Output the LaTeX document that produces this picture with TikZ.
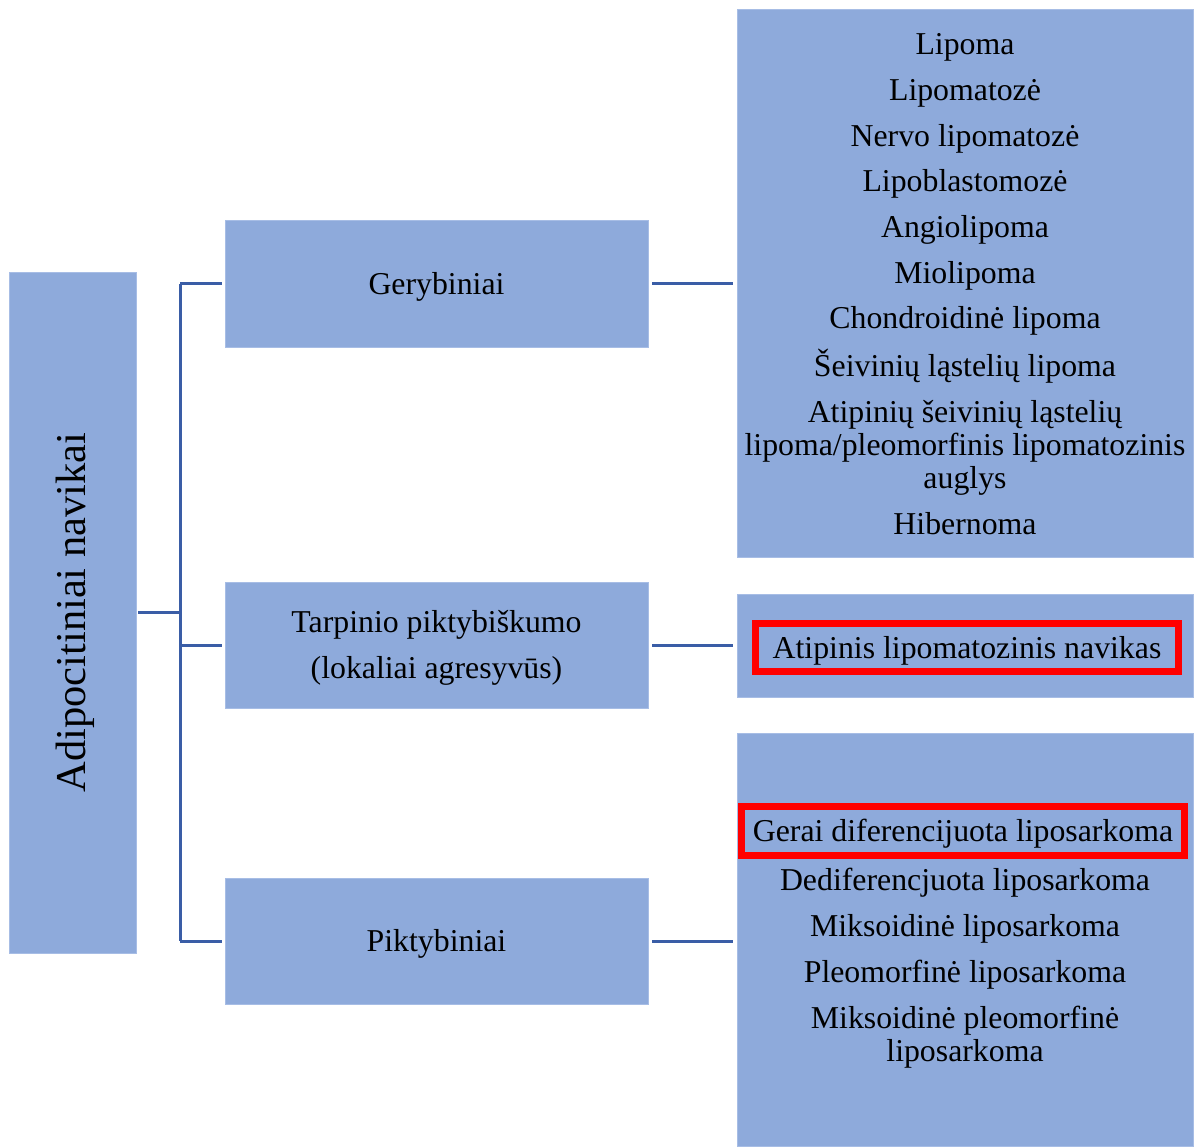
\documentclass[tikz,border=0pt]{standalone}
\usepackage{fontspec}
\setmainfont{Liberation Serif}
\definecolor{boxfill}{HTML}{8EAADB}
\definecolor{boxedge}{HTML}{A7BDE5}
\definecolor{connc}{HTML}{3A5DA6}
\definecolor{hilite}{HTML}{FF0000}
\tikzset{
  blk/.style={rectangle, fill=boxfill, draw=boxedge, line width=0.8pt, inner sep=0pt, outer sep=0pt},
  txt/.style={inner sep=0pt, outer sep=0pt, align=center, font=\fontsize{31.8}{33}\selectfont},
  lowtxt/.style={text depth=1pt},
  redbox/.style={rectangle, draw=hilite, line width=7pt, inner sep=0pt, outer sep=0pt, align=center, text depth=1pt, font=\fontsize{31.8}{33}\selectfont},
  conn/.style={draw=connc, line width=3pt},
}
\begin{document}
\begin{tikzpicture}[x=1pt,y=-1pt]
\useasboundingbox (0,0) rectangle (1204,1146);
% boxes
\node[blk, minimum width=127pt, minimum height=681pt] (root) at (72.5,612.5) {};
\node[txt, rotate=90, font=\fontsize{42.5}{44}\selectfont] (rootlbl) at (75,612.5) {Adipocitiniai navikai};

\node[blk, txt, lowtxt, minimum width=423pt, minimum height=127pt] (ger) at (436.5,283.5) {Gerybiniai};
\node[blk, txt, lowtxt, minimum width=423pt, minimum height=126pt] (tar) at (436.5,645) {Tarpinio piktybiškumo\\[13pt](lokaliai agresyvūs)};
\node[blk, txt, lowtxt, minimum width=423pt, minimum height=126pt] (pik) at (436.5,941) {Piktybiniai};

\node[blk, minimum width=456pt, minimum height=548pt] (r1) at (965,283) {};
\node[blk, minimum width=456pt, minimum height=103pt] (r2) at (965,645.5) {};
\node[blk, minimum width=456pt, minimum height=413pt] (r3) at (965,939.5) {};

% lists (base anchor = baseline of the last line)
\node[txt, anchor=base] (l1) at (965,534) {Lipoma\\[12.7pt]Lipomatozė\\[12.7pt]Nervo lipomatozė\\[12.7pt]Lipoblastomozė\\[12.7pt]Angiolipoma\\[12.7pt]Miolipoma\\[12.7pt]Chondroidinė lipoma\\[12.7pt]Šeivinių ląstelių lipoma\\[12.7pt]Atipinių šeivinių ląstelių\\lipoma/pleomorfinis lipomatozinis\\auglys\\[12.7pt]Hibernoma};

\node[redbox, minimum width=423pt, minimum height=48pt] (atip) at (967,647.5) {Atipinis lipomatozinis navikas};
\node[redbox, minimum width=443pt, minimum height=49pt] (gerai) at (963,831) {Gerai diferencijuota liposarkoma};
\node[txt, anchor=base] (l3) at (965,1061) {Dediferencjuota liposarkoma\\[13pt]Miksoidinė liposarkoma\\[13pt]Pleomorfinė liposarkoma\\[13pt]Miksoidinė pleomorfinė\\liposarkoma};

% connectors
\coordinate (bus) at (180,612.5);
\draw[conn, shorten <=2pt] (root.east) -- (bus);
\draw[conn] (bus |- ger.west) -- (bus |- pik.west);
\draw[conn, shorten >=3pt] (bus |- ger.west) -- (ger.west);
\draw[conn, shorten >=3pt] (bus |- tar.west) -- (tar.west);
\draw[conn, shorten >=3pt] (bus |- pik.west) -- (pik.west);
\draw[conn, shorten <=4pt, shorten >=4pt] (ger.east) -- (ger.east -| r1.west);
\draw[conn, shorten <=4pt, shorten >=4pt] (tar.east) -- (tar.east -| r2.west);
\draw[conn, shorten <=4pt, shorten >=4pt] (pik.east) -- (pik.east -| r3.west);
\end{tikzpicture}
\end{document}
